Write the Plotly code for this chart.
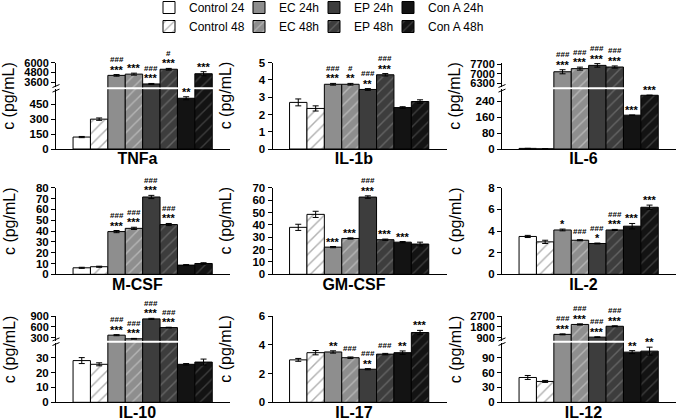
import plotly.graph_objects as go

W, H = 676, 419
FONT = "Liberation Sans, Arial, sans-serif"

# ---------------- data ----------------
groups = ["Control 24", "Control 48", "EC 24h", "EC 48h", "EP 24h", "EP 48h", "Con A 24h", "Con A 48h"]
cytokines = ["TNFa", "IL-1b", "IL-6", "M-CSF", "GM-CSF", "IL-2", "IL-10", "IL-17", "IL-12"]

tnfa_mean = [120, 300, 4450, 4600, 3400, 5200, 510, 4650]
tnfa_err = [6, 12, 100, 120, 60, 100, 15, 250]
tnfa_sig = ["", "", "###|***", "***", "###|***", "#|***", "**", "***"]

il1b_mean = [2.7, 2.35, 3.75, 3.75, 3.45, 4.3, 2.4, 2.75]
il1b_err = [0.2, 0.15, 0.05, 0.05, 0.05, 0.07, 0.05, 0.1]
il1b_sig = ["", "", "###|***", "#|**", "###|**", "###|***", "", ""]

il6_mean = [3, 1, 7150, 7380, 7620, 7500, 170, 270]
il6_err = [0.5, 0.3, 150, 110, 130, 80, 0, 0]
il6_sig = ["", "", "###|***", "###|***", "###|***", "###|***", "***", "***"]

mcsf_mean = [6, 7, 39.5, 42.5, 71.5, 46, 8.5, 10]
mcsf_err = [0.5, 0.5, 1, 1, 1.5, 1, 0.5, 0.7]
mcsf_sig = ["", "", "###|***", "###|***", "###|***", "###|***", "", ""]

gmcsf_mean = [38, 48.5, 22, 29, 62.5, 28, 26, 24.5]
gmcsf_err = [2.5, 2.5, 0.5, 0.5, 1, 0.5, 0.5, 1.5]
gmcsf_sig = ["", "", "***", "***", "###|***", "***", "***", ""]

il2_mean = [3.5, 3.0, 4.1, 3.15, 2.85, 4.1, 4.45, 6.2]
il2_err = [0.1, 0.15, 0.08, 0.05, 0.04, 0.05, 0.25, 0.2]
il2_sig = ["", "", "*", "###", "###|*", "###|***", "***", "***"]

il10_mean = [28, 25.5, 370, 270, 820, 580, 25.5, 27]
il10_err = [2, 1, 15, 10, 15, 10, 0.5, 2]
il10_sig = ["", "", "###|***", "###|***", "###|***", "###|***", "", ""]

il17_mean = [2.95, 3.45, 3.5, 3.1, 2.3, 3.35, 3.45, 4.85]
il17_err = [0.1, 0.15, 0.08, 0.05, 0.04, 0.05, 0.12, 0.15]
il17_sig = ["", "", "**", "###", "###|**", "###", "**", "***"]

il12_mean = [50, 42, 1180, 2000, 950, 1850, 101, 103]
il12_err = [4, 2, 40, 50, 30, 40, 3, 8]
il12_sig = ["", "", "###|***", "###|***", "###|***", "###|***", "**", "**"]

# tick labels
tnfa_ticks_low = [0, 150, 300, 450]
tnfa_ticks_up = [3600, 4800, 6000]
il1b_ticks = [0, 1, 2, 3, 4, 5]
il6_ticks_low = [0, 80, 160, 240]
il6_ticks_up = [6300, 7000, 7700]
mcsf_ticks = [0, 10, 20, 30, 40, 50, 60, 70, 80]
gmcsf_ticks = [0, 10, 20, 30, 40, 50, 60, 70]
il2_ticks = [0, 2, 4, 6, 8]
il10_ticks_low = [0, 10, 20, 30]
il10_ticks_up = [300, 600, 900]
il17_ticks = [0, 2, 4, 6]
il12_ticks_low = [0, 30, 60, 90]
il12_ticks_up = [900, 1800, 2700]

y_title = "c (pg/mL)"

# ---------------- styles ----------------
fills = ["#ffffff", "#ffffff", "#8e8e8e", "#8e8e8e", "#3d3d3d", "#3d3d3d", "#131313", "#131313"]
hatch = ["", "/", "", "/", "", "/", "", "/"]
hatch_col = ["#000000", "#b0b0b0", "#000000", "#b5b5b5", "#000000", "#646464", "#000000", "#3c3c3c"]

panels = [
    dict(mean=tnfa_mean, err=tnfa_err, sig=tnfa_sig, lt=tnfa_ticks_low, lr=[0, 600], ut=tnfa_ticks_up, ur=[2990, 6000]),
    dict(mean=il1b_mean, err=il1b_err, sig=il1b_sig, lt=il1b_ticks, lr=[0, 5]),
    dict(mean=il6_mean, err=il6_err, sig=il6_sig, lt=il6_ticks_low, lr=[0, 300], ut=il6_ticks_up, ur=[6005, 7818]),
    dict(mean=mcsf_mean, err=mcsf_err, sig=mcsf_sig, lt=mcsf_ticks, lr=[0, 80]),
    dict(mean=gmcsf_mean, err=gmcsf_err, sig=gmcsf_sig, lt=gmcsf_ticks, lr=[0, 70]),
    dict(mean=il2_mean, err=il2_err, sig=il2_sig, lt=il2_ticks, lr=[0, 8]),
    dict(mean=il10_mean, err=il10_err, sig=il10_sig, lt=il10_ticks_low, lr=[0, 40], ut=il10_ticks_up, ur=[217, 900]),
    dict(mean=il17_mean, err=il17_err, sig=il17_sig, lt=il17_ticks, lr=[0, 6]),
    dict(mean=il12_mean, err=il12_err, sig=il12_sig, lt=il12_ticks_low, lr=[0, 120], ut=il12_ticks_up, ur=[655, 2700]),
]

col_px = [(56, 230), (272.5, 446.5), (502, 676)]
row_px = [(62.7, 149), (187.8, 274.3), (316, 402.3)]
break_px = [88.3, None, 341.7]
X_RANGE = [-1.48, 8.52]
LABEL_POS = 3.2
legend_px = [149, 239, 314, 388]


def pyf(px):
    return 1 - px / H


def pxf(px):
    return px / W


def aid(prefix, n):
    return prefix if n == 1 else f"{prefix}{n}"


fig = go.Figure()
layout = dict(
    width=W, height=H, autosize=False,
    margin=dict(l=0, r=0, t=0, b=0, autoexpand=False),
    paper_bgcolor="white", plot_bgcolor="white",
    barmode="overlay",
    font=dict(family=FONT, color="black"),
    showlegend=True,
)
annotations = []
shapes = []


def yaxis_style(size):
    return dict(showline=True, linecolor="black", linewidth=1, ticks="outside", ticklen=4,
                tickwidth=1, tickcolor="black", showgrid=False, zeroline=False,
                tickfont=dict(family=FONT, size=size, weight="bold", color="black"),
                fixedrange=True)


upper_next = 10
for p, P in enumerate(panels):
    r, c = divmod(p, 3)
    x0, x1 = col_px[c]
    top, bot = row_px[r]
    xid = p + 1
    ylow = p + 1
    broken = "ur" in P
    if broken:
        bp = break_px[r]
        low_dom = [pyf(bot), pyf(bp + 1.0)]
        yup = upper_next
        upper_next += 1
        up_dom = [pyf(bp - 1.0), pyf(top)]
    else:
        low_dom = [pyf(bot), pyf(top)]

    layout[aid("xaxis", xid)] = dict(
        domain=[pxf(x0), pxf(x1)], range=X_RANGE, anchor=aid("y", ylow),
        showline=True, linecolor="black", linewidth=1, ticks="", showgrid=False, zeroline=False,
        tickvals=[LABEL_POS], ticktext=[cytokines[p]], ticklabelstandoff=-5,
        tickfont=dict(family=FONT, size=16, weight="bold", color="black"), fixedrange=True)
    layout[aid("yaxis", ylow)] = dict(domain=low_dom, range=P["lr"], anchor=aid("x", xid),
                                      tickvals=P["lt"], **yaxis_style(11.5))
    areas = [(ylow, P["lr"])]
    if broken:
        layout[aid("yaxis", yup)] = dict(domain=up_dom, range=P["ur"], anchor=aid("x", xid),
                                         tickvals=P["ut"], **yaxis_style(11))
        areas.append((yup, P["ur"]))
        # break marks on the axis
        for dy in (-1.3, 3.3):
            shapes.append(dict(type="line", xref="paper", yref="paper",
                               x0=pxf(x0 - 3.5), y0=pyf(bp + dy + 0.5),
                               x1=pxf(x0 + 3.5), y1=pyf(bp + dy - 2.5),
                               line=dict(color="black", width=1)))

    for k, (yid, rng) in enumerate(areas):
        for g in range(8):
            fig.add_trace(go.Bar(
                x=[g], y=[P["mean"][g]], width=[1],
                name=groups[g],
                xaxis=aid("x", xid), yaxis=aid("y", yid),
                showlegend=(p == 0 and k == 0),
                legend=aid("legend", g // 2 + 1),
                marker=dict(color=fills[g], line=dict(color="black", width=1),
                            pattern=dict(shape=hatch[g], fgcolor=hatch_col[g], bgcolor=fills[g],
                                         size=8, solidity=0.18, fillmode="replace")),
                error_y=dict(type="data", array=[P["err"][g]], visible=True, color="black",
                             thickness=1, width=3),
                hoverinfo="skip",
            ))

    # significance marks
    for g in range(8):
        s = P["sig"][g]
        if not s:
            continue
        ytop = P["mean"][g] + P["err"][g]
        yid = ylow
        if broken and ytop > P["lr"][1]:
            yid = yup
        lines = s.split("|")
        for li, txt in enumerate(reversed(lines)):
            is_hash = "#" in txt
            size = 8 if is_hash else 11
            if li == 0:
                shift = 8 if is_hash else 5
            else:
                shift = 15
            annotations.append(dict(x=g, y=ytop, xref=aid("x", xid), yref=aid("y", yid),
                                    text=txt, showarrow=False, yanchor="middle", xanchor="center",
                                    yshift=shift,
                                    font=dict(family=FONT, size=size, weight="bold", color="black")))

    # y axis title
    annotations.append(dict(x=pxf(x0 - 47), y=pyf((top + bot) / 2 - 10), xref="paper", yref="paper",
                            text=y_title, textangle=-90, showarrow=False,
                            xanchor="center", yanchor="middle",
                            font=dict(family=FONT, size=16, color="black")))

for k in range(4):
    layout[aid("legend", k + 1)] = dict(
        x=pxf(legend_px[k]), xanchor="left", y=pyf(-7), yanchor="top", orientation="v",
        bgcolor="rgba(0,0,0,0)", borderwidth=0, itemwidth=30, tracegroupgap=0,
        font=dict(family=FONT, size=12, color="black"),
        itemclick=False, itemdoubleclick=False)

layout["annotations"] = annotations
layout["shapes"] = shapes
fig.update_layout(**layout)
fig.write_html("out.html", config={"displayModeBar": False},
               post_script="document.body.style.margin='0';")
